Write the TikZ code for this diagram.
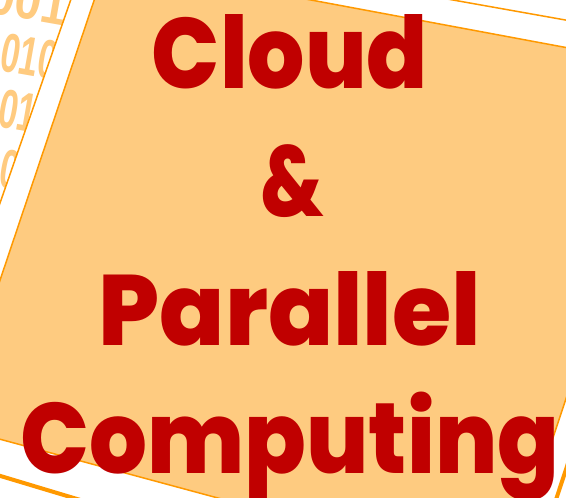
\documentclass[tikz,border=0pt]{standalone}
\usepackage{fontspec}
\newfontfamily\titlefont{Poppins}[BoldFont={Poppins ExtraBold}]
\newfontfamily\digitfont{Liberation Sans}
\definecolor{pagefill}{HTML}{FECB80}
\definecolor{pageline}{HTML}{FF9900}
\definecolor{titlered}{HTML}{C00000}
\definecolor{digitcol}{HTML}{FFCB80}
\tikzset{
  title/.style={anchor=base, inner sep=0pt, text=titlered,
    font=\titlefont\bfseries\fontsize{100}{100}\selectfont},
  bits/.style={anchor=base west, inner sep=0pt, text=digitcol, rotate=-10,
    xscale=0.62, font=\digitfont\bfseries\fontsize{55}{55}\selectfont},
  backpage/.style={fill=white, draw=pageline, line width=1.5pt},
  frontpage/.style={fill=pagefill, draw=pageline, line width=1.5pt, line join=round},
  heavyedge/.style={draw=pageline, line width=4pt}
}
\begin{document}
\begin{tikzpicture}[x=1pt, y=-1pt]
  \useasboundingbox (0,0) rectangle (566,498);
  \clip (0,0) rectangle (566,498);
  \fill[white] (0,0) rectangle (566,498);

  % binary digits behind the pages
  \node[bits, xscale=1.4] (r1) at (-14,12) {0010};
  \node[bits] (r2) at (-2,70) {0101};
  \node[bits] (r3) at (-4,126) {0100};
  \node[bits] (r4) at (-3,186) {0011};

  % back sheet
  \coordinate (btl) at (93,-64);
  \coordinate (btr) at (706,45);
  \coordinate (bbr) at (513,630);
  \coordinate (bbl) at (-86,450);
  \path[backpage] (btl) -- (btr) -- (bbr) -- (bbl) -- cycle;
  \draw[heavyedge] (btr) -- (bbr) -- (bbl);

  % front sheet
  \coordinate (ftl) at (107,-38);
  \coordinate (ftr) at (676,68);
  \coordinate (fbr) at (507,576);
  \coordinate (fbl) at (-49,426);
  \path[frontpage] (ftl) -- (ftr) -- (fbr) -- (fbl) -- cycle;

  % title
  \node[title, xscale=0.90] (cloud) at (290,88) {Cloud};
  \node[title, xscale=0.78] (amp) at (292,216) {\&};
  \node[title, xscale=0.96] (parallel) at (290,345) {Parallel};
  \node[title, xscale=0.91] (computing) at (290,473) {Computing};
\end{tikzpicture}
\end{document}
